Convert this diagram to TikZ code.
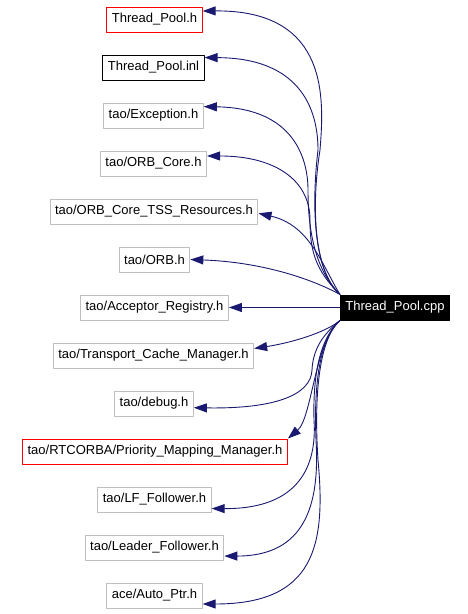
\documentclass[tikz,border=0pt]{standalone}
\usepackage{fontspec}
\setmainfont{Liberation Sans}
\usetikzlibrary{arrows.meta}
\definecolor{edgeblue}{RGB}{25,25,112}
\definecolor{boxgray}{RGB}{191,191,191}
\definecolor{boxred}{RGB}{255,0,0}

\begin{document}
\begin{tikzpicture}[
  x=1pt,
  y=-1pt,
  font=\fontsize{13}{15}\selectfont,
  line join=round,
  header/.style={
    draw=boxgray,
    line width=1pt,
    minimum height=25pt,
    inner xsep=5pt,
    inner ysep=0pt,
    text=black
  },
  localheader/.style={header,draw=boxred},
  inlheader/.style={header,draw=black},
  source/.style={header,draw=black,fill=black,text=white},
  dep/.style={
    -{Triangle[length=13pt,width=9pt]},
    draw=edgeblue,
    line width=0.9pt
  }
]
\useasboundingbox (0,0) rectangle (467,614);

% ---------------------------------------------------------------------------
% Included files, one row every 48px, and the including source file.
% ---------------------------------------------------------------------------
\node[localheader] (tph) at (154.5,19.5) {Thread\_Pool.h};
\node[inlheader] (tpinl) at (153.5,67.5) {Thread\_Pool.inl};
\node[header] (exc) at (153.5,115.5) {tao/Exception.h};
\node[header] (orbcore) at (153.5,163.5) {tao/ORB\_Core.h};
\node[header] (tss) at (154,211.5) {tao/ORB\_Core\_TSS\_Resources.h};
\node[header] (orb) at (154.5,259.5) {tao/ORB.h};
\node[header] (acc) at (154.5,307.5) {tao/Acceptor\_Registry.h};
\node[header] (tcm) at (153.5,355.5) {tao/Transport\_Cache\_Manager.h};
\node[header] (dbg) at (154,403.5) {tao/debug.h};
\node[localheader] (pmm) at (155,451.5)
  {tao/RTCORBA/Priority\_Mapping\_Manager.h};
\node[header] (lff) at (154.5,499.5) {tao/LF\_Follower.h};
\node[header] (ldf) at (154.5,547.5) {tao/Leader\_Follower.h};
\node[header] (aptr) at (154.5,595.5) {ace/Auto\_Ptr.h};

\node[source] (cpp) at (395,307.5) {Thread\_Pool.cpp};

% Upper fan: edges leave the top-left corner of the source box.
\draw[dep] (cpp.north west) .. controls (312,270) and (312,200) .. (320,150)
  .. controls (324,100) and (330,10) .. (tph.10);
\draw[dep] (cpp.north west) .. controls (312,270) and (312,200) .. (318,150)
  .. controls (318,115) and (305,58) .. (tpinl.11);
\draw[dep] (cpp.north west) .. controls (315,270) and (308,230) .. (308,190)
  .. controls (308,160) and (295,108) .. (exc.10);
\draw[dep] (cpp.north west) .. controls (315,270) and (310,250) .. (310,220)
  .. controls (310,180) and (275,156) .. (orbcore.8);
\draw[dep] (cpp.north west) .. controls (322,265) and (310,225) .. (tss.-1);
\draw[dep] (cpp.north west) .. controls (310,278) and (260,262) .. (orb.east);

% Straight edge on the middle row.
\draw[dep] (cpp.west) -- (acc.east);

% Lower fan: edges leave the bottom-left corner of the source box.
\draw[dep] (cpp.south west) .. controls (325,333) and (290,343) .. (tcm.4);
\draw[dep] (cpp.south west) .. controls (322,335) and (313,350) .. (312,370)
  .. controls (311,395) and (275,409) .. (dbg.-6);
\draw[dep] (cpp.south west) .. controls (315,340) and (312,418)
  .. (pmm.north east);
\draw[dep] (cpp.south west) .. controls (318,340) and (313,380) .. (314,420)
  .. controls (317,465) and (300,509) .. (lff.-9);
\draw[dep] (cpp.south west) .. controls (318,340) and (314,390) .. (316,440)
  .. controls (320,505) and (305,556) .. (ldf.-7);
\draw[dep] (cpp.south west) .. controls (318,340) and (314,400) .. (318,460)
  .. controls (326,545) and (315,604) .. (aptr.-10);

\end{tikzpicture}
\end{document}
